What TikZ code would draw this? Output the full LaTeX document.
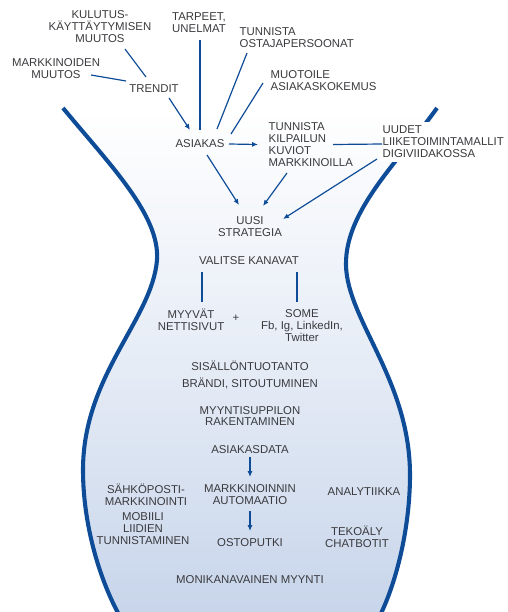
\documentclass[tikz,border=0pt]{standalone}
\usepackage{fontspec}
\setmainfont{Liberation Sans}
\definecolor{vaseblue}{RGB}{14, 76, 152}
\definecolor{vasefill}{RGB}{198, 212, 234}
\definecolor{labelgray}{RGB}{58, 58, 62}
\usetikzlibrary{arrows.meta, calc}
\tikzset{
  % Plain caption text, centred lines.
  caption/.style={
    inner sep=1pt,
    align=center,
    font=\fontsize{8.1}{8.5}\selectfont,
    text=labelgray,
  },
  % Same, but lines flush left (anchored at the west side).
  caption-left/.style={caption, align=left, anchor=west},
  % Outline of the vase.
  vase/.style={draw=vaseblue, line width=2.9pt},
  % Connectors.
  link/.style={draw=vaseblue, line width=0.85pt},
  flow/.style={link, -{Latex[length=4.2pt, width=3.6pt]}},
}

\begin{document}
\begin{tikzpicture}[x=0.025cm, y=-0.025cm]

  \useasboundingbox (0,0) rectangle (507,612);
  \clip (0,0) rectangle (507,612);

  % Vase body: shaded inside, then the two thick sides.
  \shade[top color=white, bottom color=vasefill, middle color=vasefill!45]
    (63,108) .. controls (110,165) and (160,215) .. (157,260)
    .. controls (152,320) and (83,375) .. (83,470)
    .. controls (83,530) and (103,590) .. (125,625)
    -- (375,625)
    .. controls (395,590) and (410,530) .. (410,475)
    .. controls (410,380) and (347,320) .. (346,265)
    .. controls (345,210) and (400,160) .. (437,108) -- cycle;
  \draw[vase]
    (63,108) .. controls (110,165) and (160,215) .. (157,260)
    .. controls (152,320) and (83,375) .. (83,470)
    .. controls (83,530) and (103,590) .. (125,625);
  \draw[vase]
    (437,108) .. controls (400,160) and (345,210) .. (346,265)
    .. controls (347,320) and (410,380) .. (410,475)
    .. controls (410,530) and (395,590) .. (375,625);

  % Top: what shapes the customer.
  \node[caption] (kulutus) at (100,27) {KULUTUS-\\KÄYTTÄYTYMISEN\\MUUTOS};
  \node[caption] (markkinat) at (56,69) {MARKKINOIDEN\\MUUTOS};
  \node[caption] (trendit) at (154,89) {TRENDIT};
  \node[caption] (tarpeet) at (199,23) {TARPEET,\\UNELMAT};
  \node[caption-left] (persoonat) at (238,38) {TUNNISTA\\OSTAJAPERSOONAT};
  \node[caption-left] (muotoile) at (269,81) {MUOTOILE\\ASIAKASKOKEMUS};
  \node[caption] (asiakas) at (200,144) {ASIAKAS};
  \node[caption-left] (kilpailu) at (267,144.5)
    {TUNNISTA\\KILPAILUN\\KUVIOT\\MARKKINOILLA};
  \node[caption-left, fill=white, inner ysep=3pt] (uudet) at (381,142)
    {UUDET\\LIIKETOIMINTAMALLIT\\DIGIVIIDAKOSSA};

  % Neck: strategy and channels.
  \node[caption] (strategia) at (250,227) {UUSI\\STRATEGIA};
  \node[caption] (kanavat) at (249,261) {VALITSE KANAVAT};
  \node[caption] (nettisivut) at (191,320) {MYYVÄT\\NETTISIVUT};
  \node[caption] (plus) at (236,318) {+};
  \node[caption] (some) at (302,326) {SOME\\Fb, Ig, LinkedIn,\\Twitter};

  % Belly: content, funnel and sales.
  \node[caption] (sisalto) at (250,366) {SISÄLLÖNTUOTANTO};
  \node[caption] (brandi) at (250,383) {BRÄNDI, SITOUTUMINEN};
  \node[caption] (suppilo) at (250,416) {MYYNTISUPPILON\\RAKENTAMINEN};
  \node[caption] (asiakasdata) at (250,450) {ASIAKASDATA};
  \node[caption] (automaatio) at (250,495) {MARKKINOINNIN\\AUTOMAATIO};
  \node[caption] (ostoputki) at (250,543) {OSTOPUTKI};
  \node[caption] (sahkoposti) at (146,495) {SÄHKÖPOSTI-\\MARKKINOINTI};
  \node[caption] (mobiili) at (143,529) {MOBIILI\\LIIDIEN\\TUNNISTAMINEN};
  \node[caption] (analytiikka) at (364,492) {ANALYTIIKKA};
  \node[caption] (tekoaly) at (357,537) {TEKOÄLY\\CHATBOTIT};
  \node[caption] (monikanava) at (250,580) {MONIKANAVAINEN MYYNTI};

  % Connectors around the customer.
  \draw[link] ($(kulutus)+(25,22)$) -- ($(trendit)+(-8,-12)$);
  \draw[link] ($(markkinat)+(35,6)$) -- ($(trendit)+(-28,-8)$);
  \draw[flow] ($(trendit)+(15,9)$) -- ($(asiakas)+(-10,-14)$);
  \draw[link] ($(tarpeet)+(1,17)$) -- ($(asiakas)+(0,-14)$);
  \draw[link] ($(persoonat.west)+(9,15)$) -- ($(asiakas)+(17,-15)$);
  \draw[link] ($(muotoile.west)+(-6,2)$) -- ($(asiakas)+(31,-10)$);
  \draw[flow] ($(asiakas)+(29,0)$) -- ($(kilpailu.west)+(-9,0)$);
  \draw[link] ($(kilpailu.west)+(66,0)$) -- ($(uudet.west)+(1,2)$);

  % Into the new strategy.
  \draw[flow] ($(asiakas)+(7,11)$) -- ($(strategia)+(-11,-22)$);
  \draw[flow] ($(kilpailu.west)+(20,28.5)$) -- ($(strategia)+(13,-21)$);
  \draw[flow] ($(uudet.west)+(-4,17)$) -- ($(strategia)+(33,-8)$);

  % Channel split.
  \draw[link] ($(kanavat)+(-47,11)$) -- ($(nettisivut)+(11,-18)$);
  \draw[link] ($(kanavat)+(48,11)$) -- ($(some)+(-5,-24)$);

  % Data down to the purchase path.
  \draw[flow] ($(asiakasdata)+(0,7)$) -- ($(automaatio)+(0,-18)$);
  \draw[flow] ($(automaatio)+(0,16)$) -- ($(ostoputki)+(0,-12)$);

\end{tikzpicture}
\end{document}
